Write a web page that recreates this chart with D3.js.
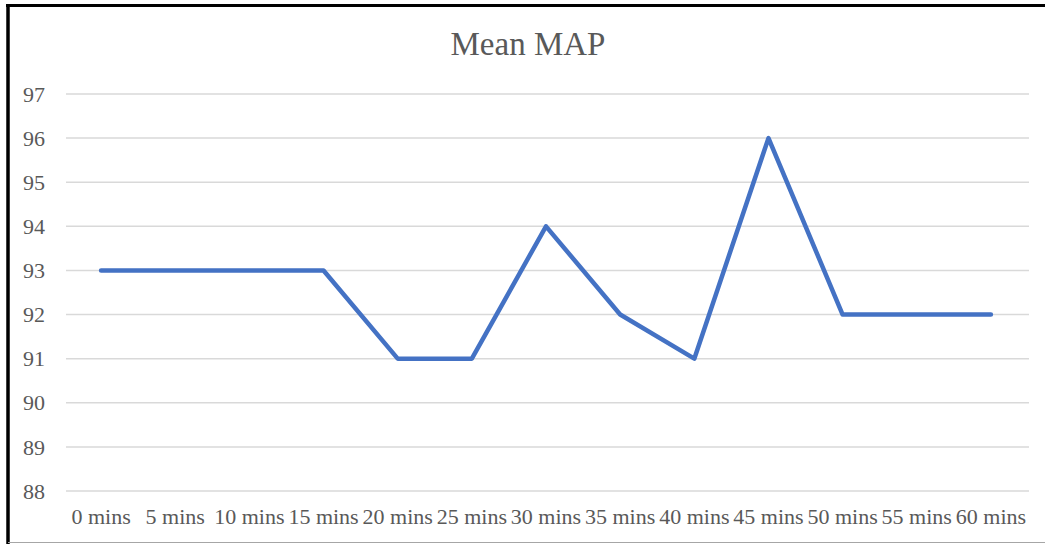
<!DOCTYPE html>
<html>
<head>
<meta charset="utf-8">
<script src="https://cdn.jsdelivr.net/npm/d3@7"></script>
<style>
  body { margin: 0; background: #fff; }
  svg { display: block; }
</style>
</head>
<body>
<svg width="1045" height="544"></svg>
<script>
// Mean MAP over time
const times = ["0 mins", "5 mins", "10 mins", "15 mins", "20 mins", "25 mins", "30 mins",
  "35 mins", "40 mins", "45 mins", "50 mins", "55 mins", "60 mins"];
const meanMap = [93, 93, 93, 93, 91, 91, 94, 92, 91, 96, 92, 92, 92];
const yTicks = [88, 89, 90, 91, 92, 93, 94, 95, 96, 97];

const svg = d3.select("svg");
const textColor = "#595959";
const font = "'Liberation Serif', 'Times New Roman', serif";

// frame lines round the chart
svg.append("line").attr("x1", 6).attr("x2", 1045).attr("y1", 5.5).attr("y2", 5.5)
  .attr("stroke", "#000").attr("stroke-width", 3);
svg.append("line").attr("x1", 8).attr("x2", 8).attr("y1", 4).attr("y2", 544)
  .attr("stroke", "#000").attr("stroke-width", 3.5);
svg.append("line").attr("x1", 8).attr("x2", 1045).attr("y1", 542.5).attr("y2", 542.5)
  .attr("stroke", "#a6a6a6").attr("stroke-width", 1);

// scales
const x = d3.scalePoint().domain(times).range([64, 1028]).padding(0.5);
const y = d3.scaleLinear().domain([88, 97]).range([491, 94]);

// gridlines
svg.append("g")
  .selectAll("line")
  .data(yTicks)
  .enter()
  .append("line")
  .attr("x1", 66)
  .attr("x2", 1029)
  .attr("y1", (d) => y(d))
  .attr("y2", (d) => y(d))
  .attr("stroke", "#d9d9d9")
  .attr("stroke-width", 1.5);

// y labels
svg.append("g")
  .selectAll("text")
  .data(yTicks)
  .enter()
  .append("text")
  .attr("x", 45)
  .attr("y", (d) => y(d))
  .attr("dy", "0.35em")
  .attr("text-anchor", "end")
  .text((d) => d)
  .style("font-family", font)
  .style("font-size", "22px")
  .style("fill", textColor);

// x labels
svg.append("g")
  .selectAll("text")
  .data(times)
  .enter()
  .append("text")
  .attr("x", (d) => x(d))
  .attr("y", 524)
  .attr("text-anchor", "middle")
  .text((d) => d)
  .style("font-family", font)
  .style("font-size", "22px")
  .style("fill", textColor);

// the line
const line = d3.line()
  .x((d, i) => x(times[i]))
  .y((d) => y(d));
svg.append("path")
  .datum(meanMap)
  .attr("d", line)
  .attr("fill", "none")
  .attr("stroke", "#4472c4")
  .attr("stroke-width", 4.5)
  .attr("stroke-linejoin", "round")
  .attr("stroke-linecap", "round");

// title
svg.append("text")
  .attr("x", 528)
  .attr("y", 55)
  .attr("text-anchor", "middle")
  .text("Mean MAP")
  .style("font-family", font)
  .style("font-size", "33px")
  .style("fill", textColor);
</script>
</body>
</html>
